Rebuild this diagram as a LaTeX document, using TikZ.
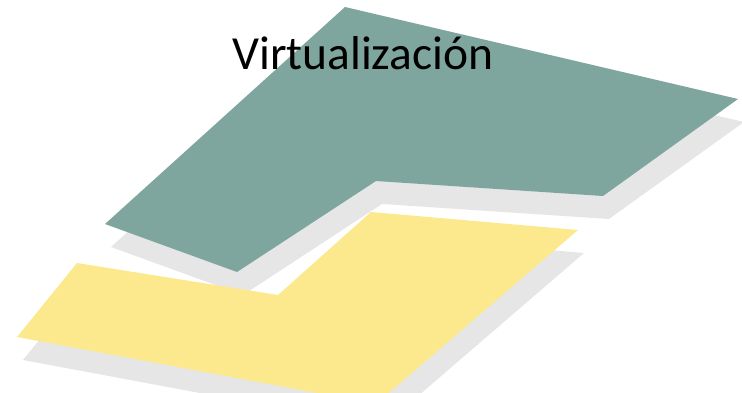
\documentclass[tikz,border=0pt]{standalone}
\usepackage{fontspec}
\setmainfont{Carlito}
\definecolor{planegreen}{RGB}{127,166,158}
\definecolor{planeyellow}{RGB}{252,233,141}
\definecolor{planeshadow}{RGB}{230,230,230}
\begin{document}
\begin{tikzpicture}[x=1pt,y=-1pt,
    plane/.style={draw=none},
    shadow/.style={fill=planeshadow,transform canvas={shift={(6,23)}}}]
    \useasboundingbox (0,0) rectangle (742,392);
    \clip (0,0) rectangle (742,392);
    % upper plane
    \coordinate (G1) at (345,7);
    \coordinate (G2) at (738,99);
    \coordinate (G3) at (603,196);
    \coordinate (G4) at (376,181);
    \coordinate (G5) at (237,272);
    \coordinate (G6) at (105,224);
    % lower plane
    \coordinate (Y1) at (77,263);
    \coordinate (Y2) at (278,295);
    \coordinate (Y3) at (371,212);
    \coordinate (Y4) at (578,230);
    \coordinate (Y5) at (376,404);
    \coordinate (Y6) at (17,337);

    \fill[shadow] (G1) -- (G2) -- (G3) -- (G4) -- (G5) -- (G6) -- cycle;
    \fill[plane,planegreen] (G1) -- (G2) -- (G3) -- (G4) -- (G5) -- (G6) -- cycle;
    \fill[shadow] (Y1) -- (Y2) -- (Y3) -- (Y4) -- (Y5) -- (Y6) -- cycle;
    \fill[plane,planeyellow] (Y1) -- (Y2) -- (Y3) -- (Y4) -- (Y5) -- (Y6) -- cycle;

    \node[anchor=base,font=\fontsize{47.5}{56}\selectfont,inner sep=0pt] (title) at (363,69) {Virtualización};
\end{tikzpicture}
\end{document}
